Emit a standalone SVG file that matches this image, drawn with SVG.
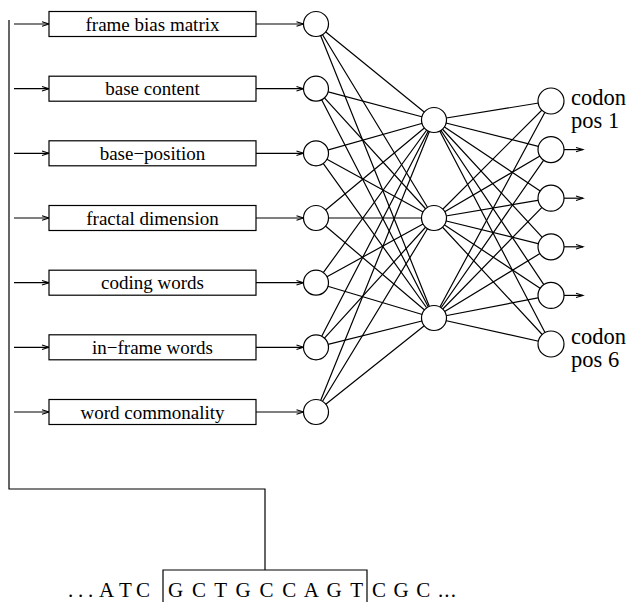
<svg xmlns="http://www.w3.org/2000/svg" width="631" height="602" viewBox="0 0 631 602">
<style>
.ln{stroke:#000;stroke-width:1.2;fill:none}
.bx{stroke:#000;stroke-width:1.2;fill:#fff}
.nd{stroke:#000;stroke-width:1.2;fill:#fff}
text{font-family:"Liberation Serif","DejaVu Serif",serif;fill:#000}
.bt{font-size:19px;text-anchor:middle}
.ot{font-size:22.5px}
.sq{font-size:21px}
</style>
<defs>
<marker id="ah" markerWidth="10" markerHeight="8" refX="8" refY="4" orient="auto" markerUnits="userSpaceOnUse">
<path d="M1,1.8 L8,4 L1,6.2" fill="none" stroke="#000" stroke-width="1.1"/>
</marker>
</defs>
<g id="connectors">
<path class="ln" d="M9,20 V489 H265 V570"/>
<path class="ln" d="M163,602 V570 H367 V602"/>
<g marker-end="url(#ah)">
<line class="ln" x1="14" y1="24" x2="49" y2="24"/>
<line class="ln" x1="14" y1="88.7" x2="49" y2="88.7"/>
<line class="ln" x1="14" y1="153.3" x2="49" y2="153.3"/>
<line class="ln" x1="14" y1="218" x2="49" y2="218"/>
<line class="ln" x1="14" y1="282.7" x2="49" y2="282.7"/>
<line class="ln" x1="14" y1="347.3" x2="49" y2="347.3"/>
<line class="ln" x1="14" y1="412" x2="49" y2="412"/>
<line class="ln" x1="256" y1="24" x2="303.5" y2="24"/>
<line class="ln" x1="256" y1="88.7" x2="303.5" y2="88.7"/>
<line class="ln" x1="256" y1="153.3" x2="303.5" y2="153.3"/>
<line class="ln" x1="256" y1="218" x2="303.5" y2="218"/>
<line class="ln" x1="256" y1="282.7" x2="303.5" y2="282.7"/>
<line class="ln" x1="256" y1="347.3" x2="303.5" y2="347.3"/>
<line class="ln" x1="256" y1="412" x2="303.5" y2="412"/>
<line class="ln" x1="564" y1="149.6" x2="583" y2="149.6"/>
<line class="ln" x1="564" y1="198.2" x2="583" y2="198.2"/>
<line class="ln" x1="564" y1="246.8" x2="583" y2="246.8"/>
<line class="ln" x1="564" y1="295.4" x2="583" y2="295.4"/>
</g>
<g class="ln">
<path d="M316,24 L434,120 M316,24 L434,218 M316,24 L434,318"/>
<path d="M316,88.7 L434,120 M316,88.7 L434,218 M316,88.7 L434,318"/>
<path d="M316,153.3 L434,120 M316,153.3 L434,218 M316,153.3 L434,318"/>
<path d="M316,218 L434,120 M316,218 L434,218 M316,218 L434,318"/>
<path d="M316,282.7 L434,120 M316,282.7 L434,218 M316,282.7 L434,318"/>
<path d="M316,347.3 L434,120 M316,347.3 L434,218 M316,347.3 L434,318"/>
<path d="M316,412 L434,120 M316,412 L434,218 M316,412 L434,318"/>
<path d="M434,120 L551,101 M434,120 L551,149.6 M434,120 L551,198.2 M434,120 L551,246.8 M434,120 L551,295.4 M434,120 L551,344"/>
<path d="M434,218 L551,101 M434,218 L551,149.6 M434,218 L551,198.2 M434,218 L551,246.8 M434,218 L551,295.4 M434,218 L551,344"/>
<path d="M434,318 L551,101 M434,318 L551,149.6 M434,318 L551,198.2 M434,318 L551,246.8 M434,318 L551,295.4 M434,318 L551,344"/>
</g>
</g>
<g id="f1"><rect class="bx" x="49" y="11.5" width="207" height="25"/><text class="bt" x="152.5" y="30.5">frame bias matrix</text></g>
<g id="f2"><rect class="bx" x="49" y="76.2" width="207" height="25"/><text class="bt" x="152.5" y="95.2">base content</text></g>
<g id="f3"><rect class="bx" x="49" y="140.8" width="207" height="25"/><text class="bt" x="152.5" y="159.8">base−position</text></g>
<g id="f4"><rect class="bx" x="49" y="205.5" width="207" height="25"/><text class="bt" x="152.5" y="224.5">fractal dimension</text></g>
<g id="f5"><rect class="bx" x="49" y="270.2" width="207" height="25"/><text class="bt" x="152.5" y="289.2">coding words</text></g>
<g id="f6"><rect class="bx" x="49" y="334.8" width="207" height="25"/><text class="bt" x="152.5" y="353.8">in−frame words</text></g>
<g id="f7"><rect class="bx" x="49" y="399.5" width="207" height="25"/><text class="bt" x="152.5" y="418.5">word commonality</text></g>
<g id="i1"><circle class="nd" cx="316" cy="24" r="12.5"/></g>
<g id="i2"><circle class="nd" cx="316" cy="88.7" r="12.5"/></g>
<g id="i3"><circle class="nd" cx="316" cy="153.3" r="12.5"/></g>
<g id="i4"><circle class="nd" cx="316" cy="218" r="12.5"/></g>
<g id="i5"><circle class="nd" cx="316" cy="282.7" r="12.5"/></g>
<g id="i6"><circle class="nd" cx="316" cy="347.3" r="12.5"/></g>
<g id="i7"><circle class="nd" cx="316" cy="412" r="12.5"/></g>
<g id="h1"><circle class="nd" cx="434" cy="120" r="12.5"/></g>
<g id="h2"><circle class="nd" cx="434" cy="218" r="12.5"/></g>
<g id="h3"><circle class="nd" cx="434" cy="318" r="12.5"/></g>
<g id="o1"><circle class="nd" cx="551" cy="101" r="13"/><text class="ot" x="571" y="105">codon</text><text class="ot" x="571" y="128">pos 1</text></g>
<g id="o2"><circle class="nd" cx="551" cy="149.6" r="13"/></g>
<g id="o3"><circle class="nd" cx="551" cy="198.2" r="13"/></g>
<g id="o4"><circle class="nd" cx="551" cy="246.8" r="13"/></g>
<g id="o5"><circle class="nd" cx="551" cy="295.4" r="13"/></g>
<g id="o6"><circle class="nd" cx="551" cy="344" r="13"/><text class="ot" x="571" y="344">codon</text><text class="ot" x="571" y="367">pos 6</text></g>
<g id="seq">
<text class="sq" x="68 73 78 83 88 94 99 113 119 131 136" y="597">. . . A T C</text>
<text class="sq" x="168" y="597" textLength="195" lengthAdjust="spacing">G C T G C C A G T</text>
<text class="sq" x="372" y="597" textLength="84" lengthAdjust="spacing">C G C ...</text>
</g>
</svg>
